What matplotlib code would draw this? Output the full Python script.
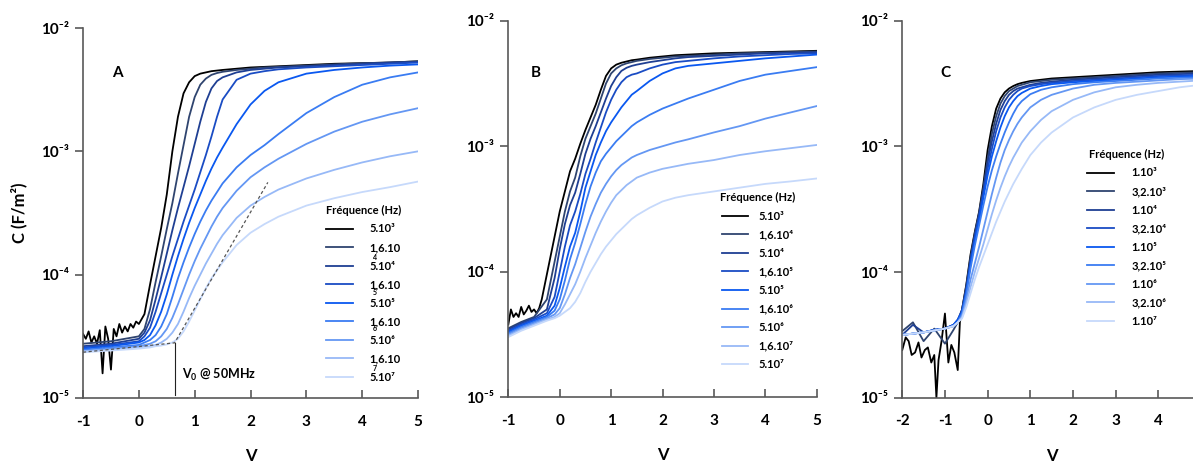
import numpy as np
import matplotlib
matplotlib.use('Agg')
import matplotlib.pyplot as plt
from matplotlib.ticker import NullLocator

plt.rcParams['font.family'] = ['Lato', 'DejaVu Sans']
plt.rcParams['font.weight'] = 'bold'

# couleurs des courbes (du plus bas au plus haut en fréquence)
colors = ['#000000', '#2f446f', '#1f3f93', '#1a4cc4', '#0a58f0', '#3a7cf2',
          '#6497f3', '#97b9f7', '#c6d9fb']

yticks = [1e-5, 1e-4, 1e-3, 1e-2]
ytick_labels = ['10⁻⁵', '10⁻⁴', '10⁻³', '10⁻²']

# ---------------- panneau A ----------------
freq_a = ['5.10³', '1,6.10', '5.10⁴', '1,6.10', '5.10⁵', '1,6.10', '5.10⁶', '1,6.10', '5.10⁷']
stray_a = ['4', '5', '6', '7']
v_a = [-1, -0.5, 0, 0.1, 0.2, 0.3, 0.4, 0.5, 0.6, 0.7, 0.8, 0.9, 1.0, 1.1, 1.2,
       1.3, 1.4, 1.5, 1.75, 2.0, 2.25, 2.5, 3.0, 3.5, 4.0, 4.5, 5.0]
v_a_noise = [-1.0, -0.95, -0.9, -0.85, -0.8, -0.75, -0.7, -0.65, -0.6, -0.55,
             -0.5, -0.45, -0.4, -0.35, -0.3, -0.25, -0.2, -0.15, -0.1, -0.05]
logc_a_noise = [-4.48, -4.52, -4.46, -4.55, -4.50, -4.56, -4.45, -4.80, -4.42, -4.52,
                -4.77, -4.44, -4.50, -4.40, -4.47, -4.42, -4.46, -4.40, -4.43, -4.38]
logc_a_black = [-4.40, -4.32, -4.08, -3.85, -3.62, -3.35, -3.00, -2.72, -2.53, -2.44,
                -2.39, -2.37, -2.36, -2.35, -2.345, -2.34, -2.33, -2.32, -2.315, -2.31,
                -2.30, -2.29, -2.285, -2.28, -2.27]
logc_a = [
    [-4.56, -4.54, -4.50, -4.44, -4.28, -4.06, -3.85, -3.63, -3.42, -3.18, -2.95, -2.72, -2.56, -2.46,
     -2.41, -2.38, -2.365, -2.355, -2.34, -2.33, -2.32, -2.315, -2.305, -2.295, -2.285, -2.28, -2.27],
    [-4.58, -4.56, -4.52, -4.47, -4.37, -4.20, -4.02, -3.83, -3.64, -3.46, -3.29, -3.12, -2.94, -2.76,
     -2.60, -2.49, -2.43, -2.40, -2.36, -2.34, -2.33, -2.32, -2.31, -2.30, -2.29, -2.28, -2.275],
    [-4.59, -4.57, -4.54, -4.50, -4.43, -4.30, -4.15, -4.00, -3.85, -3.71, -3.57, -3.44, -3.31, -3.17,
     -3.03, -2.88, -2.72, -2.58, -2.42, -2.37, -2.35, -2.335, -2.32, -2.31, -2.30, -2.29, -2.28],
    [-4.60, -4.58, -4.55, -4.53, -4.49, -4.41, -4.30, -4.16, -4.00, -3.85, -3.71, -3.58, -3.46, -3.35,
     -3.24, -3.14, -3.05, -2.97, -2.78, -2.62, -2.51, -2.44, -2.37, -2.34, -2.32, -2.305, -2.295],
    [-4.61, -4.59, -4.57, -4.55, -4.53, -4.49, -4.42, -4.32, -4.18, -4.03, -3.90, -3.78, -3.67, -3.57,
     -3.48, -3.40, -3.33, -3.26, -3.13, -3.03, -2.95, -2.86, -2.69, -2.56, -2.46, -2.40, -2.36],
    [-4.62, -4.60, -4.58, -4.57, -4.56, -4.54, -4.50, -4.44, -4.35, -4.24, -4.12, -4.00, -3.89, -3.79,
     -3.70, -3.61, -3.53, -3.46, -3.32, -3.21, -3.13, -3.06, -2.94, -2.84, -2.76, -2.70, -2.65],
    [-4.62, -4.61, -4.59, -4.585, -4.58, -4.57, -4.55, -4.52, -4.47, -4.40, -4.30, -4.19, -4.09, -4.00,
     -3.91, -3.83, -3.75, -3.68, -3.54, -3.44, -3.37, -3.31, -3.22, -3.15, -3.09, -3.04, -3.00],
    [-4.63, -4.615, -4.60, -4.595, -4.59, -4.58, -4.575, -4.565, -4.55, -4.52, -4.46, -4.38, -4.29, -4.20,
     -4.11, -4.03, -3.965, -3.90, -3.76, -3.66, -3.59, -3.53, -3.44, -3.38, -3.33, -3.29, -3.245],
]
# construction V0 @ 50MHz (ligne de base + tangente)
v0_v = [-1.0, 0.64, 2.31]
v0_c = [2.35e-5, 2.8e-5, 5.6e-4]

# ---------------- panneau B ----------------
freq_b = ['5.10³', '1,6.10⁴', '5.10⁴', '1,6.10⁵', '5.10⁵', '1,6.10⁶', '5.10⁶', '1,6.10⁷', '5.10⁷']
v_b = [-1, -0.75, -0.5, -0.25, -0.1, 0, 0.1, 0.2, 0.3, 0.4, 0.5, 0.6, 0.7, 0.8, 0.9, 1.0,
       1.1, 1.2, 1.3, 1.4, 1.5, 1.75, 2.0, 2.25, 2.5, 3.0, 3.5, 4.0, 4.5, 5.0]
v_b_noise = [-1.0, -0.95, -0.9, -0.85, -0.8, -0.75, -0.7, -0.65, -0.6, -0.55,
             -0.5, -0.45, -0.4, -0.35, -0.3]
logc_b_noise = [-4.42, -4.30, -4.36, -4.33, -4.36, -4.28, -4.34, -4.31, -4.27, -4.32,
                -4.30, -4.33, -4.29, -4.22, -4.12]
logc_b_black = [-4.02, -3.72, -3.52, -3.36, -3.20, -3.10, -2.98, -2.87, -2.77, -2.67, -2.55,
                -2.44, -2.38, -2.35, -2.335, -2.325, -2.315, -2.31, -2.295, -2.285, -2.275,
                -2.27, -2.26, -2.255, -2.25, -2.245, -2.24]
logc_b = [
    [-4.45, -4.40, -4.36, -4.22, -3.92, -3.72, -3.52, -3.36, -3.25, -3.08, -2.94, -2.84, -2.74, -2.62, -2.50,
     -2.42, -2.38, -2.355, -2.34, -2.33, -2.32, -2.305, -2.295, -2.285, -2.28, -2.27, -2.26, -2.255, -2.25, -2.245],
    [-4.46, -4.41, -4.37, -4.30, -4.05, -3.82, -3.62, -3.47, -3.37, -3.22, -3.06, -2.94, -2.84, -2.73, -2.62,
     -2.52, -2.45, -2.40, -2.375, -2.36, -2.35, -2.33, -2.315, -2.30, -2.29, -2.28, -2.27, -2.26, -2.255, -2.25],
    [-4.47, -4.42, -4.38, -4.33, -4.20, -4.00, -3.80, -3.63, -3.52, -3.38, -3.22, -3.10, -2.97, -2.85, -2.73,
     -2.63, -2.55, -2.49, -2.45, -2.43, -2.42, -2.38, -2.35, -2.33, -2.32, -2.30, -2.285, -2.275, -2.265, -2.26],
    [-4.48, -4.43, -4.39, -4.35, -4.27, -4.13, -3.96, -3.80, -3.69, -3.52, -3.33, -3.20, -3.07, -2.97, -2.88,
     -2.81, -2.75, -2.69, -2.64, -2.59, -2.56, -2.48, -2.42, -2.38, -2.36, -2.34, -2.32, -2.30, -2.285, -2.27],
    [-4.49, -4.44, -4.40, -4.36, -4.31, -4.22, -4.07, -3.90, -3.77, -3.62, -3.46, -3.32, -3.21, -3.12, -3.06,
     -3.01, -2.96, -2.92, -2.88, -2.84, -2.81, -2.75, -2.70, -2.66, -2.62, -2.55, -2.48, -2.43, -2.40, -2.37],
    [-4.50, -4.45, -4.41, -4.37, -4.34, -4.29, -4.18, -4.05, -3.94, -3.81, -3.68, -3.56, -3.46, -3.37, -3.30,
     -3.24, -3.19, -3.15, -3.12, -3.09, -3.07, -3.03, -3.00, -2.97, -2.945, -2.89, -2.84, -2.78, -2.73, -2.68],
    [-4.51, -4.46, -4.42, -4.38, -4.36, -4.33, -4.26, -4.18, -4.10, -4.00, -3.89, -3.79, -3.69, -3.60, -3.52,
     -3.45, -3.39, -3.35, -3.31, -3.28, -3.25, -3.21, -3.18, -3.16, -3.14, -3.11, -3.07, -3.04, -3.015, -2.99],
    [-4.52, -4.47, -4.43, -4.39, -4.37, -4.35, -4.32, -4.29, -4.24, -4.17, -4.08, -4.00, -3.93, -3.86, -3.80,
     -3.75, -3.70, -3.66, -3.62, -3.58, -3.55, -3.49, -3.44, -3.41, -3.39, -3.36, -3.33, -3.30, -3.28, -3.257],
]

# ---------------- panneau C ----------------
freq_c = ['1.10³', '3,2.10³', '1.10⁴', '3,2.10⁴', '1.10⁵', '3,2.10⁵', '1.10⁶', '3,2.10⁶', '1.10⁷']
v_c = [-2, -1.75, -1.5, -1.25, -1, -0.8, -0.7, -0.6, -0.5, -0.4, -0.3, -0.2, -0.1, 0, 0.1, 0.2,
       0.3, 0.4, 0.5, 0.6, 0.7, 0.8, 1.0, 1.25, 1.5, 2, 2.5, 3, 3.5, 4, 4.5, 5]
v_c_noise = [-2.0, -1.92, -1.85, -1.78, -1.7, -1.62, -1.55, -1.47, -1.4, -1.32, -1.25,
             -1.2, -1.15, -1.08, -1.0, -0.92, -0.85, -0.78, -0.7, -0.65, -0.6]
logc_c_noise = [-4.62, -4.52, -4.55, -4.66, -4.64, -4.56, -4.68, -4.62, -4.60, -4.72, -4.66,
                -5.00, -4.70, -4.55, -4.33, -4.72, -4.58, -4.64, -4.78, -4.40, -4.30]
logc_c_black = [-4.10, -3.86, -3.68, -3.52, -3.30, -3.03, -2.84, -2.70, -2.62, -2.57, -2.54,
                -2.52, -2.505, -2.495, -2.48, -2.47, -2.46, -2.45, -2.44, -2.43, -2.42,
                -2.41, -2.405, -2.40]
logc_c = [
    [-4.47, -4.40, -4.55, -4.45, -4.57, -4.46, -4.40, -4.30, -4.11, -3.88, -3.69, -3.53, -3.33, -3.10, -2.90, -2.76,
     -2.66, -2.60, -2.56, -2.54, -2.52, -2.51, -2.49, -2.48, -2.47, -2.46, -2.45, -2.44, -2.43, -2.42, -2.415, -2.41],
    [-4.50, -4.42, -4.48, -4.46, -4.45, -4.42, -4.38, -4.30, -4.13, -3.90, -3.71, -3.54, -3.35, -3.13, -2.96, -2.82,
     -2.71, -2.64, -2.59, -2.56, -2.54, -2.53, -2.51, -2.495, -2.485, -2.47, -2.46, -2.45, -2.44, -2.43, -2.425, -2.42],
    [-4.50, -4.49, -4.48, -4.46, -4.45, -4.42, -4.38, -4.31, -4.15, -3.92, -3.73, -3.56, -3.38, -3.18, -3.02, -2.88,
     -2.77, -2.69, -2.63, -2.59, -2.56, -2.54, -2.52, -2.505, -2.495, -2.48, -2.47, -2.46, -2.45, -2.44, -2.435, -2.43],
    [-4.50, -4.49, -4.48, -4.46, -4.45, -4.42, -4.38, -4.32, -4.16, -3.94, -3.75, -3.59, -3.41, -3.23, -3.08, -2.96,
     -2.85, -2.76, -2.69, -2.64, -2.60, -2.575, -2.54, -2.52, -2.505, -2.49, -2.48, -2.47, -2.46, -2.45, -2.445, -2.44],
    [-4.50, -4.49, -4.48, -4.465, -4.45, -4.43, -4.40, -4.33, -4.18, -3.97, -3.79, -3.63, -3.47, -3.32, -3.19, -3.08,
     -2.98, -2.89, -2.81, -2.74, -2.68, -2.64, -2.585, -2.55, -2.53, -2.505, -2.49, -2.48, -2.47, -2.46, -2.455, -2.45],
    [-4.50, -4.49, -4.48, -4.465, -4.45, -4.43, -4.40, -4.35, -4.22, -4.06, -3.93, -3.80, -3.66, -3.52, -3.38, -3.25,
     -3.13, -3.03, -2.95, -2.88, -2.82, -2.77, -2.69, -2.63, -2.59, -2.54, -2.51, -2.495, -2.485, -2.475, -2.465, -2.46],
    [-4.50, -4.49, -4.48, -4.465, -4.45, -4.43, -4.40, -4.36, -4.25, -4.12, -4.00, -3.89, -3.78, -3.66, -3.54, -3.43,
     -3.33, -3.24, -3.16, -3.09, -3.03, -2.97, -2.88, -2.79, -2.72, -2.63, -2.57, -2.53, -2.51, -2.495, -2.485, -2.475],
    [-4.50, -4.49, -4.48, -4.465, -4.45, -4.43, -4.40, -4.37, -4.28, -4.17, -4.06, -3.96, -3.87, -3.78, -3.69, -3.60,
     -3.52, -3.44, -3.37, -3.30, -3.24, -3.18, -3.07, -2.97, -2.89, -2.77, -2.69, -2.63, -2.59, -2.56, -2.53, -2.51],
]

fig = plt.figure(figsize=(11.93, 4.63), dpi=100)
ax_a = fig.add_axes([0.0696, 0.1404, 0.2808, 0.7991])
ax_b = fig.add_axes([0.4261, 0.1419, 0.2585, 0.8134])
ax_c = fig.add_axes([0.7563, 0.1410, 0.2504, 0.8143])


def draw_panel(ax, v, v_noise, logc_noise, logc_black, start, logc):
    vb = v_noise + v[start:]
    cb = 10 ** np.array(logc_noise + logc_black)
    lines = [ax.plot(vb, cb, color=colors[0], lw=1.3)[0]]
    for i, lc in enumerate(logc):
        lines.append(ax.plot(v, 10 ** np.array(lc), color=colors[i + 1], lw=1.3)[0])
    return lines


def style(ax, xlim, xticks, xlabels, letter, lx, ly):
    ax.set_yscale('log')
    ax.set_ylim(1e-5, 1e-2)
    ax.set_xlim(*xlim)
    ax.set_yticks(yticks)
    ax.set_yticklabels(ytick_labels)
    ax.yaxis.set_minor_locator(NullLocator())
    ax.set_xticks(xticks)
    ax.set_xticklabels(xlabels)
    for s in ['top', 'right']:
        ax.spines[s].set_visible(False)
    for s in ['left', 'bottom']:
        ax.spines[s].set_color('#595959')
        ax.spines[s].set_linewidth(1.2)
    ax.tick_params(axis='x', direction='in', length=6, width=1.2, color='#595959',
                   pad=12, labelsize=11)
    ax.tick_params(axis='y', direction='out', length=6, width=1.2, color='#595959',
                   pad=4, labelsize=11)
    for lab in ax.get_xticklabels() + ax.get_yticklabels():
        lab.set_fontweight('bold')
    ax.set_xlabel('V', fontsize=12, fontweight='bold', labelpad=14)
    ax.text(lx, ly, letter, transform=ax.transAxes, fontsize=11, fontweight='bold',
            ha='center', va='center')


def add_legend(ax, lines, labels, x, y, textpad):
    ax.legend(lines, labels, title='Fréquence (Hz)', loc='upper left',
              bbox_to_anchor=(x, y), frameon=False,
              prop={'weight': 'bold', 'size': 8},
              title_fontproperties={'weight': 'bold', 'size': 8},
              handlelength=2.4, handletextpad=textpad, labelspacing=0.68,
              borderpad=0, borderaxespad=0)


# A
lines_a = draw_panel(ax_a, v_a, v_a_noise, logc_a_noise, logc_a_black, 2, logc_a)
ax_a.plot(v0_v, v0_c, color='#555555', lw=0.9, ls=(0, (2.5, 2)))
ax_a.plot([v0_v[1], v0_v[1]], [1.05e-5, v0_c[1]], color='#222222', lw=0.8)
ax_a.text(0.77, 10 ** -4.81, 'V$_\\mathregular{0}$ @ 50MHz', fontsize=9, fontweight='bold',
          ha='left', va='center')
style(ax_a, (-1, 5), [-1, 0, 1, 2, 3, 4, 5], ['-1', '0', '1', '2', '3', '4', '5'],
      'A', 0.104, 0.878)
ax_a.set_ylabel('C (F/m²)', fontsize=12, fontweight='bold', labelpad=10)
add_legend(ax_a, lines_a, freq_a, 0.725, 0.522, 1.5)
# exposants décalés sous "1,6.10" comme dans la figure d'origine
for k, s in enumerate(stray_a):
    ax_a.text(0.866, [0.380, 0.284, 0.187, 0.081][k], s, transform=ax_a.transAxes,
              fontsize=5, fontweight='bold', ha='left', va='center')

# B
lines_b = draw_panel(ax_b, v_b, v_b_noise, logc_b_noise, logc_b_black, 3, logc_b)
style(ax_b, (-1, 5), [-1, 0, 1, 2, 3, 4, 5], ['-1', '0', '1', '2', '3', '4', '5'],
      'B', 0.09, 0.861)
add_legend(ax_b, lines_b, freq_b, 0.686, 0.545, 0.9)

# C (l'axe dépasse le bord droit de l'image, le "5" n'est pas visible)
lines_c = draw_panel(ax_c, v_c, v_c_noise, logc_c_noise, logc_c_black, 8, logc_c)
style(ax_c, (-2, 5), [-2, -1, 0, 1, 2, 3, 4, 5], ['-2', '-1', '0', '1', '2', '3', '4', ''],
      'C', 0.146, 0.861)
add_legend(ax_c, lines_c, freq_c, 0.618, 0.66, 1.6)

fig.savefig('out.png', dpi=100)
